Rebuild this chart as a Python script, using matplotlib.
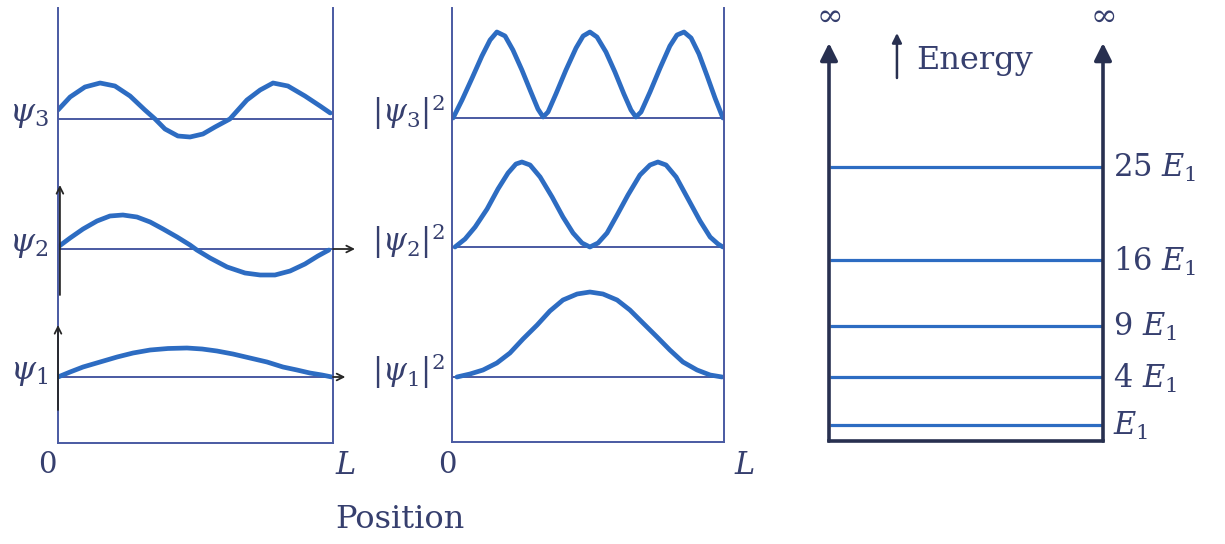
import numpy as np
import matplotlib.pyplot as plt

plt.rcParams['font.family'] = 'DejaVu Serif'
plt.rcParams['mathtext.fontset'] = 'dejavuserif'

BLUE = '#2d6cc2'
FRAME = '#4a5aa2'
INK = '#363f6e'
DARK = '#283050'
PEN = '#262626'

# --- wave functions (left panel): x in units of L, height above the level's baseline
psi_base = [66, 194, 324]
psi1_x = [0.0, 0.044, 0.091, 0.153, 0.215, 0.273, 0.335, 0.40, 0.469, 0.524,
          0.578, 0.636, 0.698, 0.76, 0.818, 0.869, 0.916, 0.96, 0.996]
psi1_y = [0, 5, 10, 15, 20, 24, 27, 28.5, 29, 28, 26, 23, 19, 15, 10, 7, 4, 2, 0]
psi2_x = [0.0, 0.044, 0.091, 0.142, 0.189, 0.236, 0.287, 0.335, 0.382, 0.433,
          0.48, 0.505, 0.553, 0.615, 0.68, 0.735, 0.789, 0.844, 0.898, 0.945, 0.985]
psi2_y = [2, 11, 20, 28, 33, 34, 32, 27, 20, 12, 4, -1, -9, -18, -24, -26, -26,
          -22, -15, -7, -1]
psi3_x = [0.0, 0.044, 0.098, 0.153, 0.207, 0.262, 0.316, 0.353, 0.389, 0.436,
          0.48, 0.527, 0.571, 0.625, 0.687, 0.735, 0.782, 0.836, 0.898, 0.953, 0.99]
psi3_y = [9, 22, 32, 36, 33, 23, 9, 0, -10, -17, -18, -15, -8, 0, 19, 29, 36,
          33, 23, 13, 6]
psi_labels = [r'$\psi_1$', r'$\psi_2$', r'$\psi_3$']

# --- probability densities (middle panel)
prob_base = [65, 195, 324]
prob1_x = [0.018, 0.066, 0.114, 0.165, 0.213, 0.261, 0.313, 0.36, 0.408, 0.46,
           0.507, 0.555, 0.607, 0.654, 0.702, 0.754, 0.801, 0.849, 0.901, 0.949, 0.993]
prob1_y = [0, 3, 7, 14, 24, 38, 52, 66, 77, 83, 85, 83, 77, 67, 54, 40, 27, 15,
           7, 2, 0]
prob2_x = [0.011, 0.048, 0.085, 0.129, 0.169, 0.206, 0.235, 0.257, 0.287, 0.324,
           0.368, 0.408, 0.445, 0.478, 0.507, 0.537, 0.57, 0.607, 0.647, 0.691,
           0.728, 0.757, 0.787, 0.824, 0.868, 0.912, 0.949, 0.978, 0.996]
prob2_y = [0, 8, 20, 38, 58, 74, 83, 85, 82, 70, 50, 30, 14, 4, 0, 4, 14, 32, 52,
           72, 82, 85, 82, 70, 48, 26, 10, 3, 0]
prob3_x = [0.004, 0.037, 0.074, 0.11, 0.14, 0.165, 0.195, 0.224, 0.257, 0.29,
           0.316, 0.335, 0.353, 0.382, 0.419, 0.456, 0.482, 0.507, 0.533, 0.566,
           0.599, 0.632, 0.658, 0.676, 0.695, 0.728, 0.765, 0.801, 0.827, 0.853,
           0.879, 0.908, 0.938, 0.967, 0.996]
prob3_y = [0, 18, 40, 62, 78, 86, 82, 68, 48, 26, 9, 1, 6, 24, 48, 70, 82, 86,
           81, 66, 46, 24, 8, 1, 6, 26, 50, 72, 83, 86, 80, 64, 42, 20, 0]
prob_labels = [r'$|\psi_1|^2$', r'$|\psi_2|^2$', r'$|\psi_3|^2$']

# --- energy levels (right panel), drawn height in the well
levels = [16, 64, 115, 181, 274]
level_labels = ['$E_1$', '4 $E_1$', '9 $E_1$', '16 $E_1$', '25 $E_1$']

# hand-drawn pen arrows on the left panel: (x0, y0, x1, y1)
pen_marks = [(0.007, 148, 0.007, 258), (0.0, 33, 0.0, 118),
             (1.0, 194, 1.08, 194), (1.0, 66, 1.045, 66)]

W, H = 1225, 544
fig = plt.figure(figsize=(W / 100, H / 100), dpi=100)


def box(left, top, right, bottom):
    return fig.add_axes([left / W, 1 - bottom / H, (right - left) / W, (bottom - top) / H])


def frame(ax, ymax):
    ax.set_xlim(0, 1)
    ax.set_ylim(0, ymax)
    ax.set_xticks([])
    ax.set_yticks([])
    ax.spines['top'].set_visible(False)
    for s in ['left', 'right', 'bottom']:
        ax.spines[s].set_color(FRAME)
        ax.spines[s].set_linewidth(1.4)
    ax.patch.set_alpha(0)


# left panel
ax1 = box(58, 8, 333, 443)
frame(ax1, 435)
curves = [(psi1_x, psi1_y), (psi2_x, psi2_y), (psi3_x, psi3_y)]
for (x, y), b, lab in zip(curves, psi_base, psi_labels):
    ax1.axhline(b, color=FRAME, lw=1.4)
    ax1.plot(x, np.array(y) + b, color=BLUE, lw=3.4, solid_joinstyle='round',
             solid_capstyle='round')
    ax1.text(-0.035, b + 4, lab, ha='right', va='center', fontsize=23, color=INK)
for x0, y0, x1, y1 in pen_marks:
    ax1.annotate('', xy=(x1, y1), xytext=(x0, y0), annotation_clip=False,
                 arrowprops=dict(arrowstyle='->', lw=1.3, color=PEN,
                                 shrinkA=0, shrinkB=0, mutation_scale=12))
ax1.text(-0.04, -22, '0', ha='center', va='center', fontsize=21, color=INK)
ax1.text(1.044, -22, '$L$', ha='center', va='center', fontsize=22, color=INK)

# middle panel
ax2 = box(452, 8, 724, 442)
frame(ax2, 434)
curves = [(prob1_x, prob1_y), (prob2_x, prob2_y), (prob3_x, prob3_y)]
for (x, y), b, lab in zip(curves, prob_base, prob_labels):
    ax2.axhline(b, color=FRAME, lw=1.4)
    ax2.plot(x, np.array(y) + b, color=BLUE, lw=3.4, solid_joinstyle='round',
             solid_capstyle='round')
    ax2.text(-0.025, b + 6, lab, ha='right', va='center', fontsize=22, color=INK)
ax2.text(-0.018, -23, '0', ha='center', va='center', fontsize=21, color=INK)
ax2.text(1.077, -23, '$L$', ha='center', va='center', fontsize=22, color=INK)

fig.text(400 / W, 1 - 520 / H, 'Position', ha='center', va='center',
         fontsize=23, color=INK)

# right panel: infinite well with energy levels
ax3 = box(829, 43, 1103, 441)
ax3.set_xlim(0, 1)
ax3.set_ylim(0, 398)
ax3.axis('off')
ax3.hlines(levels, 0.005, 0.995, color=BLUE, lw=2.3)
for y, lab in zip(levels, level_labels):
    ax3.text(1.035, y - 1, lab, ha='left', va='center', fontsize=22, color=INK)
for xw in [0, 1]:
    ax3.annotate('', xy=(xw, 398), xytext=(xw, 0), annotation_clip=False,
                 arrowprops=dict(arrowstyle='-|>', lw=2.6, color=DARK,
                                 shrinkA=0, shrinkB=0, mutation_scale=26))
    ax3.text(xw, 425, r'$\infty$', ha='center', va='center', fontsize=23,
             color=INK, clip_on=False)
ax3.plot([0, 1], [0, 0], color=DARK, lw=2.6, solid_capstyle='projecting',
         clip_on=False)
ax3.annotate('', xy=(0.248, 408), xytext=(0.248, 363), annotation_clip=False,
             arrowprops=dict(arrowstyle='-|>', lw=1.8, color=DARK,
                             shrinkA=0, shrinkB=0, mutation_scale=14))
ax3.text(0.318, 381, 'Energy', ha='left', va='center', fontsize=23, color=INK)

fig.savefig('out.png', dpi=100)
